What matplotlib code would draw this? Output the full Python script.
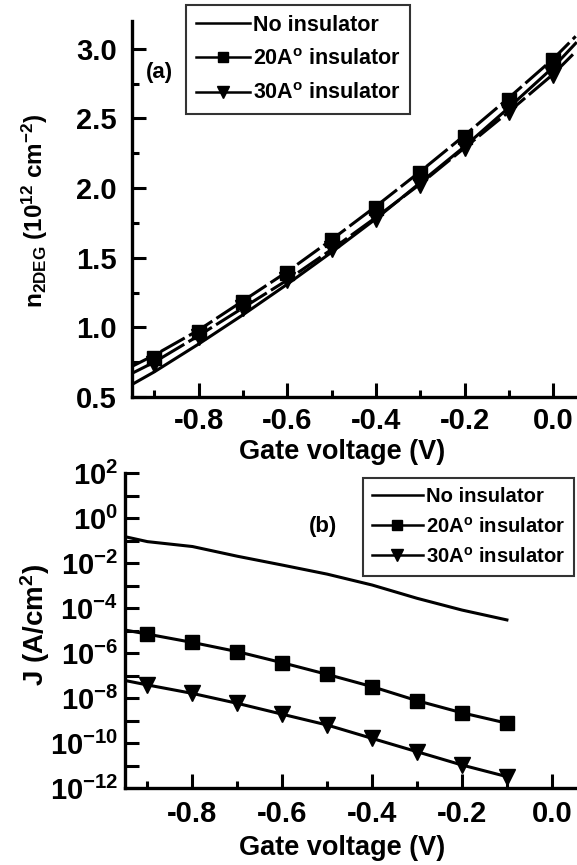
import matplotlib
matplotlib.use("Agg")
import matplotlib.pyplot as plt
from matplotlib.lines import Line2D
from matplotlib.ticker import FixedLocator, NullFormatter

plt.rcParams.update({
    "font.family": ["Liberation Sans", "DejaVu Sans"],
    "font.weight": "bold",
    "axes.labelweight": "bold",
    "axes.unicode_minus": False,
    "mathtext.fontset": "custom",
    "mathtext.rm": "Liberation Sans:bold",
    "mathtext.it": "Liberation Sans:bold",
    "mathtext.bf": "Liberation Sans:bold",
    "mathtext.default": "rm",
})

# ---------------- data: panel (a) ----------------
vg_marks = [-0.9, -0.8, -0.7, -0.6, -0.5, -0.4, -0.3, -0.2, -0.1, 0.0]
n_20_marks = [0.78, 0.97, 1.18, 1.39, 1.63, 1.86, 2.11, 2.37, 2.63, 2.92]
n_30_marks = [0.74, 0.93, 1.14, 1.34, 1.56, 1.78, 2.02, 2.29, 2.55, 2.81]

vg_line = [-0.95, -0.9, -0.8, -0.7, -0.6, -0.5, -0.4, -0.3, -0.2, -0.1, 0.0, 0.05]
n_no_line = [0.59, 0.68, 0.88, 1.09, 1.31, 1.54, 1.78, 2.04, 2.30, 2.58, 2.87, 3.04]
n_20_line = [0.72, 0.80, 0.98, 1.19, 1.40, 1.63, 1.87, 2.12, 2.38, 2.65, 2.93, 3.09]
n_30_line = [0.67, 0.75, 0.94, 1.14, 1.34, 1.56, 1.79, 2.03, 2.29, 2.55, 2.82, 2.98]

# ---------------- data: panel (b) ----------------
vg_b_marks = [-0.9, -0.8, -0.7, -0.6, -0.5, -0.4, -0.3, -0.2, -0.1]
J_20_marks = [6.9e-6, 2.95e-6, 1.15e-6, 3.7e-7, 1.12e-7, 3.2e-8, 7.6e-9, 2.2e-9, 7.6e-10]
J_30_marks = [3.8e-8, 1.6e-8, 5.8e-9, 1.9e-9, 6.3e-10, 1.6e-10, 4.1e-11, 1.05e-11, 3.2e-12]

vg_b_line = [-0.95, -0.9, -0.8, -0.7, -0.6, -0.5, -0.4, -0.3, -0.2, -0.1]
J_no_line = [0.148, 0.089, 0.054, 0.020, 8.1e-3, 3.2e-3, 1.05e-3, 2.7e-4, 8.1e-5, 2.95e-5]
J_20_line = [1.05e-5] + J_20_marks
J_30_line = [6.0e-8] + J_30_marks

x_ticks = [-0.8, -0.6, -0.4, -0.2, 0.0]
x_ticklabels = ["-0.8", "-0.6", "-0.4", "-0.2", "0.0"]
x_minor = [-0.9, -0.7, -0.5, -0.3, -0.1]
ya_ticks = [0.5, 1.0, 1.5, 2.0, 2.5, 3.0]
ya_ticklabels = ["0.5", "1.0", "1.5", "2.0", "2.5", "3.0"]
ya_minor = [0.75, 1.25, 1.75, 2.25, 2.75]
yb_ticks = [1e2, 1e0, 1e-2, 1e-4, 1e-6, 1e-8, 1e-10, 1e-12]
yb_ticklabels = [r"10$^{2}$", r"10$^{0}$", r"10$^{-2}$", r"10$^{-4}$", r"10$^{-6}$",
                 r"10$^{-8}$", r"10$^{-10}$", r"10$^{-12}$"]
yb_minor = [1e1, 1e-1, 1e-3, 1e-5, 1e-7, 1e-9, 1e-11]

labels = ["No insulator", r"20A$^{\mathregular{o}}$ insulator", r"30A$^{\mathregular{o}}$ insulator"]

W, H = 577, 865
fig = plt.figure(figsize=(W / 100, H / 100), dpi=100)

def px_axes(left, top, right, bottom):
    return fig.add_axes([left / W, 1 - bottom / H, (right - left) / W, (bottom - top) / H])

LW = 2.2
MS = 10
TICKFS = 21
DASH = (0, (9, 1.6))

def style(ax, xpad, ypad):
    for s in ["top", "right"]:
        ax.spines[s].set_visible(False)
    for s in ["left", "bottom"]:
        ax.spines[s].set_linewidth(2.4)
    ax.tick_params(which="major", direction="in", length=10, width=2.2, labelsize=TICKFS)
    ax.tick_params(which="minor", direction="in", length=5, width=2.2)
    ax.tick_params(axis="x", which="major", pad=xpad)
    ax.tick_params(axis="y", which="major", pad=ypad)
    ax.set_xticks(x_ticks)
    ax.set_xticklabels(x_ticklabels)
    ax.xaxis.set_minor_locator(FixedLocator(x_minor))
    ax.xaxis.set_minor_formatter(NullFormatter())

# ---------- panel (a) ----------
A_L, A_T, A_R, A_B = 132, 21, 577, 397
ax1 = px_axes(A_L, A_T, A_R, A_B)
ax1.plot(vg_line, n_no_line, color="black", lw=LW, zorder=3)
ax1.plot(vg_line, n_20_line, color="black", lw=LW, ls=DASH, zorder=3)
ax1.plot(vg_line, n_30_line, color="black", lw=LW, ls=DASH, zorder=3)
ax1.plot(vg_marks, n_20_marks, ls="none", marker="s", ms=MS, color="black", zorder=4)
ax1.plot(vg_marks, n_30_marks, ls="none", marker="v", ms=MS + 1, color="black", zorder=4)
ax1.set_xlim(-0.95, 0.053)
ax1.set_ylim(0.5, 3.2)
style(ax1, 7, 11)
ax1.set_yticks(ya_ticks)
ax1.set_yticklabels(ya_ticklabels)
ax1.yaxis.set_minor_locator(FixedLocator(ya_minor))
ax1.yaxis.set_minor_formatter(NullFormatter())
ax1.set_xlabel("Gate voltage (V)", fontsize=19.5)
ax1.xaxis.set_label_coords((342 - A_L) / (A_R - A_L), -(439 - A_B) / (A_B - A_T))
ax1.set_ylabel(r"n$_{\mathregular{2DEG}}$ (10$^{\mathregular{12}}$ cm$^{\mathregular{-2}}$)",
               fontsize=17.5)
ax1.yaxis.set_label_coords(-(A_L - 50) / (A_R - A_L), (A_B - 211) / (A_B - A_T))
ax1.text(-0.918, 2.83, "(a)", fontsize=16, fontweight="bold", va="center", ha="left")

# ---------- panel (b) ----------
B_L, B_T, B_R, B_B = 125, 473, 577, 788
ax2 = px_axes(B_L, B_T, B_R, B_B)
ax2.set_yscale("log")
ax2.plot(vg_b_line, J_no_line, color="black", lw=LW, zorder=3)
ax2.plot(vg_b_line, J_20_line, color="black", lw=LW, zorder=3)
ax2.plot(vg_b_line, J_30_line, color="black", lw=LW, zorder=3)
ax2.plot(vg_b_marks, J_20_marks, ls="none", marker="s", ms=MS, color="black", zorder=4)
ax2.plot(vg_b_marks, J_30_marks, ls="none", marker="v", ms=MS + 1, color="black", zorder=4)
ax2.set_xlim(-0.95, 0.056)
ax2.set_ylim(1e-12, 1e2)
style(ax2, 9, 5)
ax2.yaxis.set_major_locator(FixedLocator(yb_ticks))
ax2.set_yticklabels(yb_ticklabels)
ax2.yaxis.set_minor_locator(FixedLocator(yb_minor))
ax2.yaxis.set_minor_formatter(NullFormatter())
ax2.tick_params(axis="y", which="minor", length=10)
ax2.set_xlabel("Gate voltage (V)", fontsize=19.5)
ax2.xaxis.set_label_coords((342 - B_L) / (B_R - B_L), -(835 - B_B) / (B_B - B_T))
ax2.set_ylabel(r"J (A/cm$^{\mathregular{2}}$)", fontsize=20)
ax2.yaxis.set_label_coords(-(B_L - 52) / (B_R - B_L), (B_B - 625) / (B_B - B_T))
ax2.text(-0.51, 10 ** -0.36, "(b)", fontsize=16, fontweight="bold", va="center", ha="center")

# ---------- legends ----------
def handles():
    return [
        Line2D([], [], color="black", lw=1.8),
        Line2D([], [], color="black", lw=1.8, marker="s", ms=7),
        Line2D([], [], color="black", lw=1.8, marker="v", ms=8),
    ]

for (x0, y0, ls, fs) in [(186, 5, 0.62, 15.5), (363, 478, 0.5, 14.6)]:
    leg = fig.legend(handles(), labels, loc="upper left",
                     bbox_to_anchor=(x0 / W, 1 - y0 / H), bbox_transform=fig.transFigure,
                     fancybox=False, frameon=True, handlelength=2.5,
                     handletextpad=0.15, borderpad=0.45, labelspacing=ls,
                     borderaxespad=0.0, prop={"weight": "bold", "size": fs})
    leg.get_frame().set_edgecolor("black")
    leg.get_frame().set_linewidth(1.5)

fig.savefig("out.png", dpi=100)
